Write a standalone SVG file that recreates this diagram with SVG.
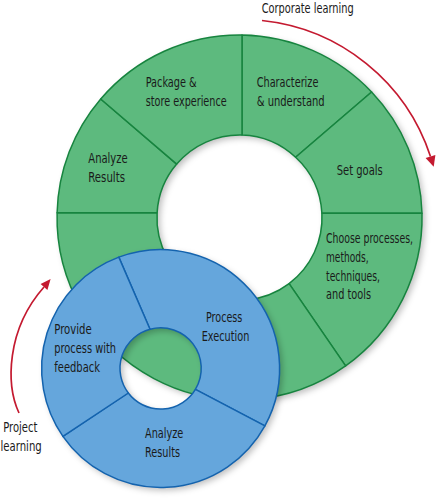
<svg xmlns="http://www.w3.org/2000/svg" width="437" height="500" viewBox="0 0 437 500">
<style>
.g{fill:#5dba7e;stroke:#17843f;stroke-width:1.5;stroke-linejoin:round}
.b{fill:#65a6dc;stroke:#1463ae;stroke-width:1.5;stroke-linejoin:round}
.shadow{fill:#000;fill-opacity:0.25;fill-rule:evenodd}
text{font-family:"Liberation Sans Narrow","DejaVu Sans Condensed","Liberation Sans",sans-serif;font-size:14.8px;fill:#1a1a1a}
.arrow{fill:none;stroke:#c41a30;stroke-width:1.7}
.head{fill:#c41a30}
</style>
<defs>
<filter id="blur" x="-20%" y="-20%" width="140%" height="140%"><feGaussianBlur stdDeviation="3"/></filter>
</defs>
<rect width="437" height="500" fill="#fff"/>
<path class="shadow" filter="url(#blur)" transform="translate(3,3)" d="M57,217.5A182.5,182.5 0 1 1 422,217.5A182.5,182.5 0 1 1 57,217.5ZM157,217.5A82.5,82.5 0 1 1 322,217.5A82.5,82.5 0 1 1 157,217.5Z"/>
<g id="green-ring">
<g id="characterize">
<path class="g" d="M242,35A182.5,182.5 0 0 1 371.6,92L295.6,157.3A82.5,82.5 0 0 0 242,135Z"/>
<text x="256.7" y="87" textLength="61.7" lengthAdjust="spacingAndGlyphs">Characterize</text>
<text x="256.7" y="106" textLength="68" lengthAdjust="spacingAndGlyphs">&amp; understand</text>
</g>
<g id="set-goals">
<path class="g" d="M371.6,92A182.5,182.5 0 0 1 422,213.3L321.9,213.3A82.5,82.5 0 0 0 295.6,157.3Z"/>
<text x="336.7" y="175" textLength="46" lengthAdjust="spacingAndGlyphs">Set goals</text>
</g>
<g id="choose">
<path class="g" d="M422,213.3A182.5,182.5 0 0 1 345.6,365.9L289.1,283.6A82.5,82.5 0 0 0 321.9,213.3Z"/>
<text x="326" y="243.3" textLength="87" lengthAdjust="spacingAndGlyphs">Choose processes,</text>
<text x="326" y="262" textLength="42.6" lengthAdjust="spacingAndGlyphs">methods,</text>
<text x="326" y="280.5" textLength="54" lengthAdjust="spacingAndGlyphs">techniques,</text>
<text x="326" y="299.3" textLength="45" lengthAdjust="spacingAndGlyphs">and tools</text>
</g>
<g id="execute-green">
<path class="g" d="M345.6,365.9A182.5,182.5 0 0 1 57.1,212.7L157.1,212.7A82.5,82.5 0 0 0 289.1,283.6Z"/>
</g>
<g id="analyze-corporate">
<path class="g" d="M57.1,212.7A182.5,182.5 0 0 1 100.7,99L176.7,164.1A82.5,82.5 0 0 0 157.1,212.7Z"/>
<text x="88.3" y="162.8" textLength="39.4" lengthAdjust="spacingAndGlyphs">Analyze</text>
<text x="88.3" y="182.4" textLength="36.7" lengthAdjust="spacingAndGlyphs">Results</text>
</g>
<g id="package">
<path class="g" d="M100.7,99A182.5,182.5 0 0 1 242,35L242,135A82.5,82.5 0 0 0 176.7,164.1Z"/>
<text x="145.7" y="87" textLength="51" lengthAdjust="spacingAndGlyphs">Package &amp;</text>
<text x="145.7" y="106" textLength="81" lengthAdjust="spacingAndGlyphs">store experience</text>
</g>
</g>
<path class="shadow" filter="url(#blur)" transform="translate(3,3)" d="M41.6,368.5A119,119 0 1 1 279.6,368.5A119,119 0 1 1 41.6,368.5ZM120.1,368.5A40.5,40.5 0 1 1 201.1,368.5A40.5,40.5 0 1 1 120.1,368.5Z"/>
<g id="blue-ring">
<g id="process-execution">
<path class="b" d="M118.8,257.1A119,119 0 0 1 264.9,425.8L195.4,389.3A40.5,40.5 0 0 0 150,329.3Z"/>
<text x="206" y="321.7" textLength="36.3" lengthAdjust="spacingAndGlyphs">Process</text>
<text x="201.7" y="340.7" textLength="47.6" lengthAdjust="spacingAndGlyphs">Execution</text>
</g>
<g id="analyze-project">
<path class="b" d="M264.9,425.8A119,119 0 0 1 62.9,436.4L128.3,393A40.5,40.5 0 0 0 195.4,389.3Z"/>
<text x="145" y="438.3" textLength="38.3" lengthAdjust="spacingAndGlyphs">Analyze</text>
<text x="145" y="457.3" textLength="35" lengthAdjust="spacingAndGlyphs">Results</text>
</g>
<g id="provide-feedback">
<path class="b" d="M62.9,436.4A119,119 0 0 1 118.8,257.1L150,329.3A40.5,40.5 0 0 0 128.3,393Z"/>
<text x="54.3" y="334" textLength="37.4" lengthAdjust="spacingAndGlyphs">Provide</text>
<text x="54.3" y="353.3" textLength="61.7" lengthAdjust="spacingAndGlyphs">process with</text>
<text x="54.3" y="372.3" textLength="45.7" lengthAdjust="spacingAndGlyphs">feedback</text>
</g>
</g>
<g id="connectors">
<g id="corporate-learning">
<path class="arrow" d="M262,20.5A199,199 0 0 1 430.5,156.5"/>
<polygon class="head" points="425.6,158 435.4,154.9 433.7,166.8"/>
<text x="261.7" y="13" textLength="92" lengthAdjust="spacingAndGlyphs">Corporate learning</text>
</g>
<g id="project-learning">
<path class="arrow" d="M19,413C6,385 6,330 44,287"/>
<polygon class="head" points="40.6,284 47.4,290 50.6,279"/>
<text x="3.3" y="431.7" textLength="34" lengthAdjust="spacingAndGlyphs">Project</text>
<text x="0.5" y="450.7" textLength="41.2" lengthAdjust="spacingAndGlyphs">learning</text>
</g>
</g>
</svg>
